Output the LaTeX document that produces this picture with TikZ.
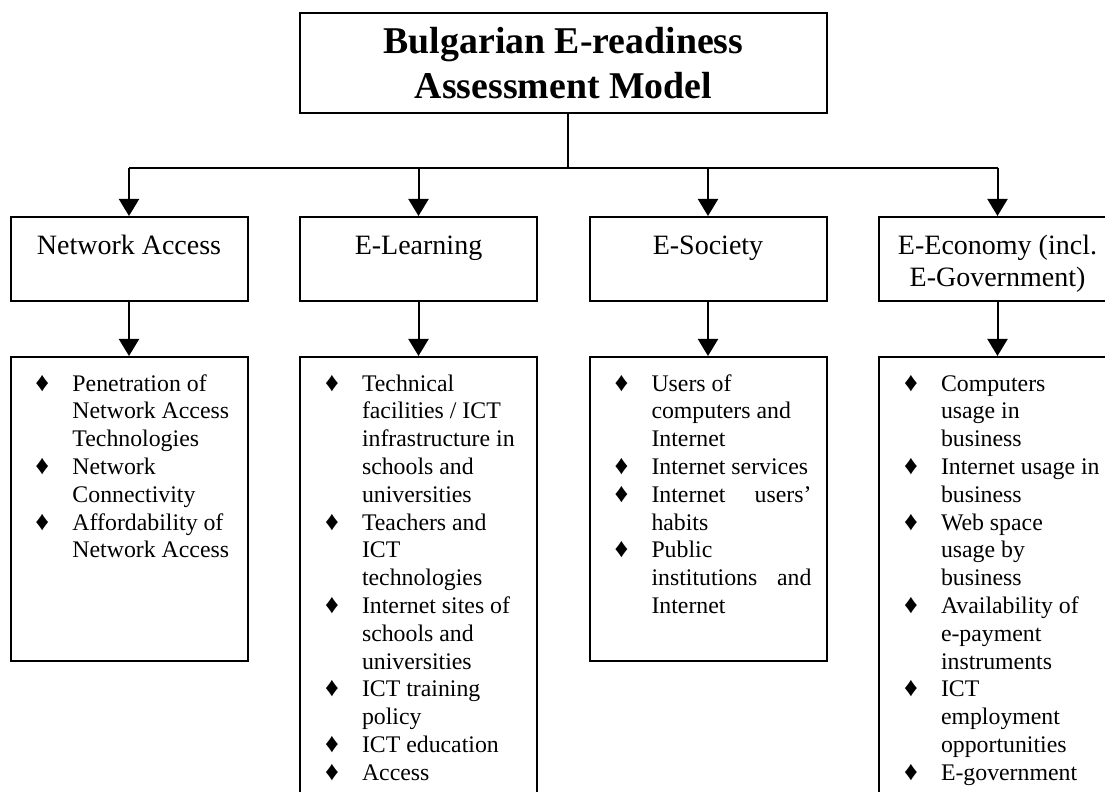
\documentclass[tikz,border=0pt]{standalone}
\usepackage{fontspec}
\setmainfont{Liberation Serif}
\usetikzlibrary{positioning,arrows.meta}

\newcommand{\headtext}[1]{\parbox[c][42pt][t]{118.5pt}{\centering\rule{0pt}{19pt}#1}}
\newcommand{\listtext}[2]{\parbox[c][#1][t]{118.5pt}{\rule{0pt}{17pt}\hspace*{12.5pt}\begin{tabular}[t]{@{}p{18.5pt}@{}l@{}}#2\end{tabular}}}
\newcommand{\itm}{\smash{\fontsize{13.5}{13.9}\selectfont ♦}}

\begin{document}
\begin{tikzpicture}[>={Triangle[width=10pt,length=8.5pt]},
    headbox/.style={draw, line width=1pt, inner sep=0pt,
        font=\fontsize{14}{16}\selectfont},
    listbox/.style={draw, line width=1pt, inner sep=0pt,
        font=\fontsize{11.9}{13.9}\selectfont},
    link/.style={line width=1pt}]
    \useasboundingbox (0,0) rectangle (552.5pt,-396pt);
    \clip (0,0) rectangle (552.5pt,-396pt);

    % Model
    \node [draw,
        line width=1pt,
        minimum width=263.5pt,
        minimum height=50pt,
        align=center,
        font=\fontsize{18.9}{22.5}\selectfont\bfseries
    ]  (Model) at (281.75pt,-31.5pt) {Bulgarian E-readiness\\Assessment Model};

    % Areas
    \node [headbox] (Access) at (64.5pt,-129.5pt) {\headtext{Network Access}};
    \node [headbox,
        right=25.25pt of Access
    ]  (Learning) {\headtext{E-Learning}};
    \node [headbox,
        right=25.25pt of Learning
    ]  (Society) {\headtext{E-Society}};
    \node [headbox,
        right=25.25pt of Society
    ]  (Economy) {\headtext{E-Economy (incl.\\E-Government)}};

    % Indicators
    \node [listbox,
        below=27pt of Access
    ]  (AccessList) {\listtext{152pt}{%
        \itm & Penetration of\\
             & Network Access\\
             & Technologies\\
        \itm & Network\\
             & Connectivity\\
        \itm & Affordability of\\
             & Network Access}};
    \node [listbox,
        below=27pt of Learning
    ]  (LearningList) {\listtext{232pt}{%
        \itm & Technical\\
             & facilities / ICT\\
             & infrastructure in\\
             & schools and\\
             & universities\\
        \itm & Teachers and\\
             & ICT\\
             & technologies\\
        \itm & Internet sites of\\
             & schools and\\
             & universities\\
        \itm & ICT training\\
             & policy\\
        \itm & ICT education\\
        \itm & Access}};
    \node [listbox,
        below=27pt of Society
    ]  (SocietyList) {\listtext{152pt}{%
        \itm & Users of\\
             & computers and\\
             & Internet\\
        \itm & Internet services\\
        \itm & \hbox to 80pt{Internet\hfill users'}\\
             & habits\\
        \itm & Public\\
             & \hbox to 80pt{institutions\hfill and}\\
             & Internet}};
    \node [listbox,
        below=27pt of Economy
    ]  (EconomyList) {\listtext{232pt}{%
        \itm & Computers\\
             & usage in\\
             & business\\
        \itm & Internet usage in\\
             & business\\
        \itm & Web space\\
             & usage by\\
             & business\\
        \itm & Availability of\\
             & e-payment\\
             & instruments\\
        \itm & ICT\\
             & employment\\
             & opportunities\\
        \itm & E-government}};

    % Connectors
    \draw [link] ([xshift=2.25pt]Model.south) -- ++(0,-27pt) coordinate (Bus);
    \draw [link] (Bus -| Access.north) -- (Bus -| Economy.north);
    \foreach \area/\list in {Access/AccessList, Learning/LearningList,
        Society/SocietyList, Economy/EconomyList}{
        \draw [link,->] (Bus -| \area.north) -- (\area.north);
        \draw [link,->] (\area.south) -- (\list.north);
    }
\end{tikzpicture}
\end{document}
